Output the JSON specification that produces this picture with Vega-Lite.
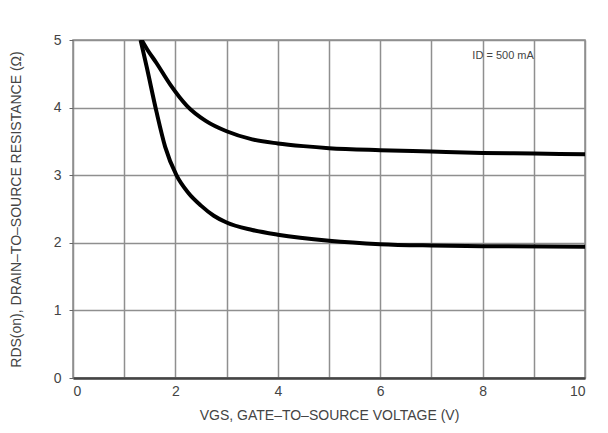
{
  "$schema": "https://vega.github.io/schema/vega-lite/v6.json",
  "autosize": "none",
  "padding": {"left": 73, "top": 40, "right": 23, "bottom": 55},
  "width": 512,
  "height": 338,
  "background": "white",
  "config": {
    "font": "Liberation Sans",
    "view": {"stroke": "#8a8a8a", "strokeWidth": 1.5},
    "axis": {
      "gridColor": "#8f8f8f",
      "gridWidth": 1.5,
      "gridOpacity": 1,
      "labelColor": "#444444",
      "labelFontSize": 14,
      "titleColor": "#444444",
      "titleFontSize": 14,
      "titleFontWeight": "normal",
      "tickColor": "#666666",
      "domainColor": "#444444"
    }
  },
  "datasets": {
    "curves": [
      {"vgs": 1.34, "rds": 5.0, "curve": "upper"},
      {"vgs": 1.45, "rds": 4.86, "curve": "upper"},
      {"vgs": 1.63, "rds": 4.66, "curve": "upper"},
      {"vgs": 1.9, "rds": 4.34, "curve": "upper"},
      {"vgs": 2.22, "rds": 4.03, "curve": "upper"},
      {"vgs": 2.6, "rds": 3.8, "curve": "upper"},
      {"vgs": 3.0, "rds": 3.65, "curve": "upper"},
      {"vgs": 3.5, "rds": 3.53, "curve": "upper"},
      {"vgs": 4.0, "rds": 3.47, "curve": "upper"},
      {"vgs": 4.5, "rds": 3.43, "curve": "upper"},
      {"vgs": 5.0, "rds": 3.4, "curve": "upper"},
      {"vgs": 6.0, "rds": 3.37, "curve": "upper"},
      {"vgs": 7.0, "rds": 3.35, "curve": "upper"},
      {"vgs": 8.0, "rds": 3.33, "curve": "upper"},
      {"vgs": 9.0, "rds": 3.32, "curve": "upper"},
      {"vgs": 10.0, "rds": 3.31, "curve": "upper"},
      {"vgs": 1.32, "rds": 5.0, "curve": "lower"},
      {"vgs": 1.44, "rds": 4.6, "curve": "lower"},
      {"vgs": 1.63, "rds": 3.94, "curve": "lower"},
      {"vgs": 1.8, "rds": 3.42, "curve": "lower"},
      {"vgs": 2.02, "rds": 3.0, "curve": "lower"},
      {"vgs": 2.25, "rds": 2.74, "curve": "lower"},
      {"vgs": 2.5, "rds": 2.55, "curve": "lower"},
      {"vgs": 2.75, "rds": 2.4, "curve": "lower"},
      {"vgs": 3.0, "rds": 2.3, "curve": "lower"},
      {"vgs": 3.5, "rds": 2.19, "curve": "lower"},
      {"vgs": 4.0, "rds": 2.12, "curve": "lower"},
      {"vgs": 5.0, "rds": 2.03, "curve": "lower"},
      {"vgs": 6.0, "rds": 1.98, "curve": "lower"},
      {"vgs": 7.0, "rds": 1.96, "curve": "lower"},
      {"vgs": 8.0, "rds": 1.95, "curve": "lower"},
      {"vgs": 10.0, "rds": 1.94, "curve": "lower"}
    ],
    "labels": [
      {"vgs": 7.8, "rds": 4.76, "text": "ID = 500 mA"}
    ]
  },
  "layer": [
    {
      "data": {"name": "curves"},
      "mark": {"type": "line", "color": "black", "strokeWidth": 4, "interpolate": "monotone", "clip": true},
      "encoding": {
        "x": {
          "field": "vgs",
          "type": "quantitative",
          "scale": {"domain": [0, 10], "nice": false},
          "axis": {
            "values": [0, 1, 2, 3, 4, 5, 6, 7, 8, 9, 10],
            "labelExpr": "datum.value % 2 == 0 ? datum.label : ''",
            "title": "VGS, GATE–TO–SOURCE VOLTAGE (V)",
            "titlePadding": 10,
            "domainWidth": 2.5,
            "tickSize": 0,
            "labelPadding": 6
          }
        },
        "y": {
          "field": "rds",
          "type": "quantitative",
          "scale": {"domain": [0, 5], "nice": false},
          "axis": {
            "values": [0, 0.5, 1, 1.5, 2, 2.5, 3, 3.5, 4, 4.5, 5],
            "labelExpr": "datum.value % 1 == 0 ? format(datum.value, 'd') : ''",
            "title": "RDS(on), DRAIN–TO–SOURCE RESISTANCE (Ω)",
            "titlePadding": 30,
            "domain": false,
            "tickSize": 4,
            "labelPadding": 8
          }
        },
        "detail": {"field": "curve"}
      }
    },
    {
      "data": {"name": "labels"},
      "mark": {"type": "text", "align": "left", "baseline": "middle", "fontSize": 11, "color": "#444444"},
      "encoding": {
        "x": {"field": "vgs", "type": "quantitative"},
        "y": {"field": "rds", "type": "quantitative"},
        "text": {"field": "text"}
      }
    }
  ]
}
